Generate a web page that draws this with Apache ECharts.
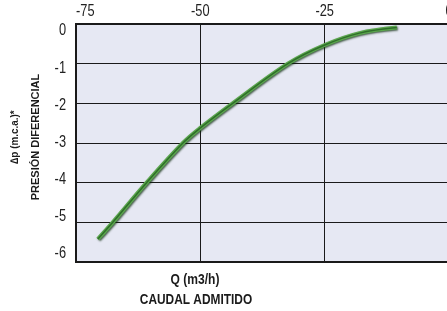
<!DOCTYPE html>
<html>
<head>
<meta charset="utf-8">
<script src="https://cdn.jsdelivr.net/npm/echarts@6/dist/echarts.min.js"></script>
<style>
html,body{margin:0;padding:0;background:#fff;}
#c{width:447px;height:311px;}
</style>
</head>
<body>
<div id="c"></div>
<script>
// Data
const qValues  = [-70.6, -67.6, -60.8, -53.5, -50.0, -43.5, -32.4, -25.0, -18.0, -10.5];
const dpValues = [-5.42, -5.00, -4.00, -3.00, -2.62, -2.00, -1.00, -0.53, -0.23, -0.09];
const xTicks = [-75, -50, -25, 0];
const yTicks = [0, -1, -2, -3, -4, -5, -6];
const xTitle = ['Q (m3/h)', 'CAUDAL ADMITIDO'];
const yTitle = ['\u2206p (m.c.a.)*', 'PRESIÓN DIFERENCIAL'];

const FONT = "'Liberation Sans', Arial, sans-serif";
const curve = qValues.map((q, i) => [q, dpValues[i]]);

const chart = echarts.init(document.getElementById('c'), null, {renderer: 'canvas'});
chart.setOption({
  animation: false,
  grid: {
    left: 76, top: 24, right: -2, bottom: 49, outerBoundsMode: 'none', containLabel: false,
    show: true, backgroundColor: '#e6e8f3', borderColor: '#1a1a1a', borderWidth: 2
  },
  xAxis: {
    type: 'value', position: 'top', min: -75, max: 0, interval: 25,
    axisLine: {show: false},
    axisTick: {show: false},
    splitLine: {show: true, lineStyle: {color: '#1a1a1a', width: 1}},
    axisLabel: {show: false}
  },
  yAxis: [{
    type: 'value', min: -6, max: 0, interval: 1,
    axisLine: {show: false},
    axisTick: {show: false},
    axisLabel: {show: false},
    splitLine: {show: true, lineStyle: {color: '#1a1a1a', width: 1}}
  }, {
    // label axis: the reference's tick labels sit on a slightly compressed scale
    type: 'value', position: 'left', min: -6.215, max: 0.188,
    axisLine: {show: false}, axisTick: {show: false}, splitLine: {show: false},
    axisLabel: {show: false}
  }],
  series: [{
    type: 'line', data: curve, smooth: 0.35, symbol: 'none',
    xAxisIndex: 0, yAxisIndex: 0,
    lineStyle: {width: 4, color: '#5aa64c', shadowColor: 'rgba(10,40,10,0.75)', shadowBlur: 2, shadowOffsetX: 1, shadowOffsetY: 1}
  }, {
    type: 'line', data: curve, smooth: 0.35, symbol: 'none',
    xAxisIndex: 0, yAxisIndex: 0,
    lineStyle: {width: 1.5, color: '#2f6e2a'}
  }]
});

const labelFont = "16px " + FONT;
const titleFont = "bold 14px " + FONT;
const g = [];
xTicks.forEach((v, i) => {
  const px = chart.convertToPixel({xAxisIndex: 0}, v);
  g.push({type: 'text', x: px, y: 20, scaleX: 0.8, silent: true,
    style: {text: String(v), font: labelFont, fill: '#222', align: i === 0 ? 'left' : 'center', verticalAlign: 'bottom'}});
});
yTicks.forEach(v => {
  const py = chart.convertToPixel({yAxisIndex: 1}, v);
  g.push({type: 'text', x: 66, y: py, scaleX: 0.8, silent: true,
    style: {text: String(v), font: labelFont, fill: '#222', align: 'right', verticalAlign: 'middle'}});
});
g.push({type: 'text', x: 195, y: 280, scaleX: 0.86, silent: true, style: {text: xTitle[0], font: titleFont, fill: '#1a1a1a', align: 'center', verticalAlign: 'middle'}});
g.push({type: 'text', x: 196, y: 300, scaleX: 0.85, silent: true, style: {text: xTitle[1], font: titleFont, fill: '#1a1a1a', align: 'center', verticalAlign: 'middle'}});
g.push({type: 'text', x: 15, y: 137, rotation: Math.PI / 2, scaleX: 0.9, silent: true, style: {text: yTitle[0], font: "bold 11px " + FONT, fill: '#1a1a1a', align: 'center', verticalAlign: 'middle'}});
g.push({type: 'text', x: 36, y: 137, rotation: Math.PI / 2, silent: true, style: {text: yTitle[1], font: "bold 11px " + FONT, fill: '#1a1a1a', align: 'center', verticalAlign: 'middle'}});
chart.setOption({graphic: g});
</script>
</body>
</html>
